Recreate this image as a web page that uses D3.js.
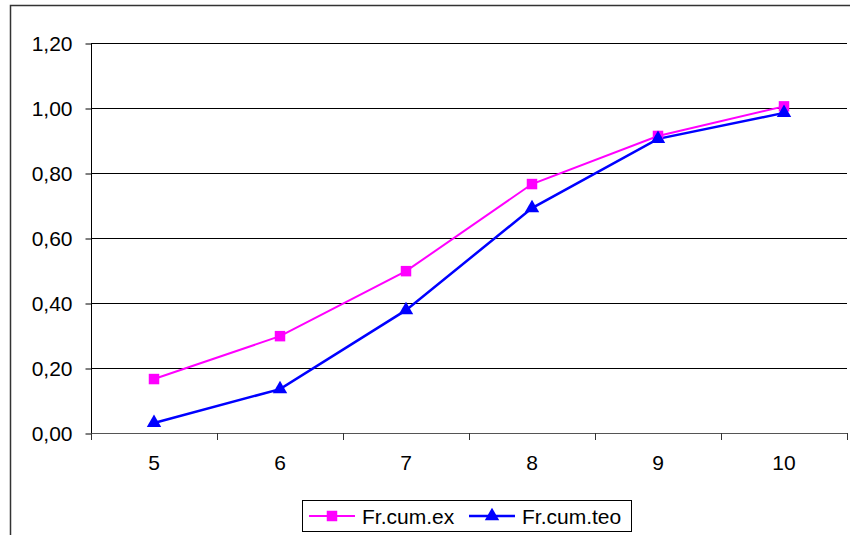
<!DOCTYPE html>
<html><head><meta charset="utf-8">
<script src="https://cdn.jsdelivr.net/npm/d3@7"></script>
<style>body{margin:0;background:#fff}svg{display:block}</style>
</head><body>
<script>
const categories = ["5","6","7","8","9","10"];
const frCumEx  = [0.166, 0.298, 0.498, 0.766, 0.914, 1.005];
const frCumTeo = [0.031, 0.135, 0.378, 0.692, 0.905, 0.985];
const yTicks = [0, 0.2, 0.4, 0.6, 0.8, 1.0, 1.2];
const seriesNames = ["Fr.cum.ex", "Fr.cum.teo"];

const W = 850, H = 535;
const font = "'Liberation Sans', Arial, sans-serif";
const FS = 21;
const svg = d3.select("body").append("svg").attr("width", W).attr("height", H);

// outer chart border
svg.append("rect").attr("x", 10.5).attr("y", 5.5).attr("width", 900).attr("height", 600)
  .attr("fill", "none").attr("stroke", "#333").attr("stroke-width", 1.5);

const L = 91, R = 847, T = 43, B = 433;
const x = d3.scaleBand().domain(categories).range([L, R]);
const y = d3.scaleLinear().domain([0, 1.2]).range([B, T]);
const fmt = v => d3.format(".2f")(v).replace(".", ",");

// gridlines
svg.append("g").selectAll("line").data(yTicks.filter(t => t > 0)).join("line")
  .attr("x1", L).attr("x2", R)
  .attr("y1", d => Math.round(y(d)) + 0.5).attr("y2", d => Math.round(y(d)) + 0.5)
  .attr("stroke", "#000").attr("stroke-width", 1);

// y axis
const ya = svg.append("g").attr("transform", `translate(${L + 0.5},0.5)`)
  .call(d3.axisLeft(y).tickValues(yTicks).tickFormat(fmt).tickSize(6).tickPadding(13));
ya.select(".domain").attr("stroke", "#000").attr("d", `M0,${y(1.2)}V${y(0)}`);
ya.selectAll(".tick line").attr("stroke", "#000");
ya.selectAll("text").attr("font-family", font).attr("font-size", FS).attr("fill", "#000");

// x axis
const xa = svg.append("g").attr("transform", `translate(0,${B + 0.5})`)
  .call(d3.axisBottom(x).tickSize(0).tickPadding(22));
xa.select(".domain").attr("stroke", "#555").attr("d", `M${L},0H${R}`);
xa.selectAll("text").attr("font-family", font).attr("font-size", FS).attr("fill", "#000");
// x category boundary ticks
svg.append("g").selectAll("line").data(categories.concat(["end"])).join("line")
  .attr("x1", (d, i) => Math.round(L + i * x.step()) + 0.5)
  .attr("x2", (d, i) => Math.round(L + i * x.step()) + 0.5)
  .attr("y1", B).attr("y2", B + 7).attr("stroke", "#333");

const cx = d => x(d) + x.bandwidth() / 2;
const line = d3.line().x(d => cx(d.c)).y(d => y(d.v));
const exData = categories.map((c, i) => ({c, v: frCumEx[i]}));
const teoData = categories.map((c, i) => ({c, v: frCumTeo[i]}));

svg.append("path").datum(exData).attr("d", line).attr("fill", "none")
  .attr("stroke", "#ff00ff").attr("stroke-width", 2);
svg.append("path").datum(teoData).attr("d", line).attr("fill", "none")
  .attr("stroke", "#0000ff").attr("stroke-width", 2.5);

const sq = d3.symbol().type(d3.symbolSquare).size(110);
const tri = d3.symbol().type(d3.symbolTriangle).size(90);
svg.append("g").selectAll("path").data(exData).join("path")
  .attr("transform", d => `translate(${cx(d.c)},${y(d.v)})`).attr("d", sq).attr("fill", "#ff00ff");
svg.append("g").selectAll("path").data(teoData).join("path")
  .attr("transform", d => `translate(${cx(d.c)},${y(d.v)})`).attr("d", tri).attr("fill", "#0000ff");

// legend
const lg = svg.append("g");
lg.append("rect").attr("x", 302.5).attr("y", 500.5).attr("width", 329).attr("height", 31)
  .attr("fill", "#fff").attr("stroke", "#000");
const items = [
  {name: seriesNames[0], color: "#ff00ff", sym: sq, x0: 309, sw: 2},
  {name: seriesNames[1], color: "#0000ff", sym: tri, x0: 469, sw: 2.5}
];
items.forEach(it => {
  lg.append("line").attr("x1", it.x0).attr("x2", it.x0 + 46).attr("y1", 516).attr("y2", 516)
    .attr("stroke", it.color).attr("stroke-width", it.sw);
  lg.append("path").attr("transform", `translate(${it.x0 + 23},516)`).attr("d", it.sym).attr("fill", it.color);
  lg.append("text").attr("x", it.x0 + 53).attr("y", 524).text(it.name)
    .attr("font-family", font).attr("font-size", FS).attr("fill", "#000");
});
</script>
</body></html>
